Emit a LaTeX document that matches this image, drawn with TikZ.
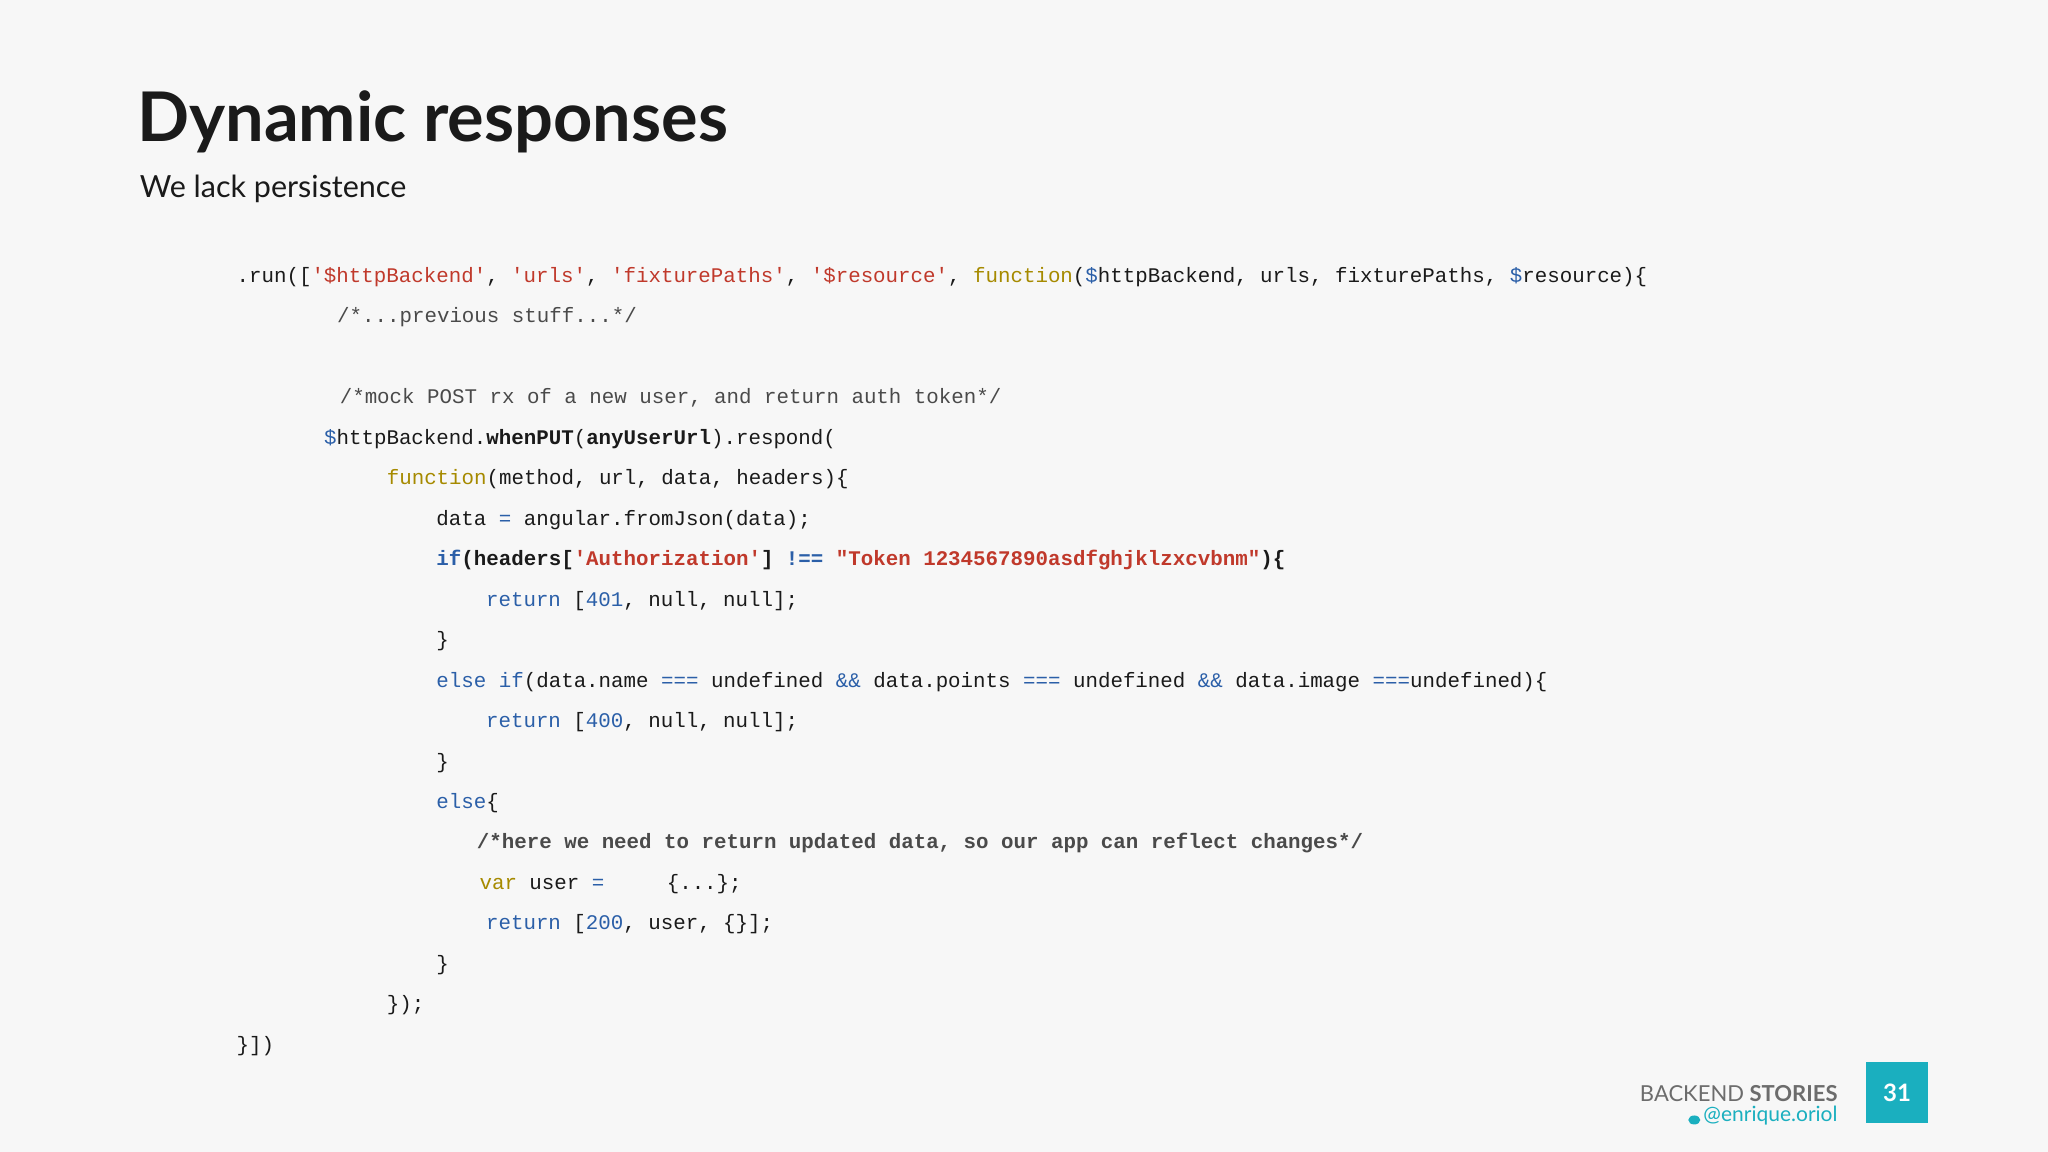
\documentclass[tikz,border=0pt]{standalone}
\usepackage{fontspec}
\setmainfont{Lato}
\newfontfamily\codef{Liberation Mono}
\definecolor{bg}{HTML}{F7F7F7}
\definecolor{kw}{HTML}{A68A00}
\definecolor{bl}{HTML}{2B5FA8}
\definecolor{st}{HTML}{C0392B}
\definecolor{cm}{HTML}{4A4A4A}
\definecolor{tx}{HTML}{1A1A1A}
\definecolor{teal}{HTML}{1AAFBF}
\newcommand\q{\char"27\relax}
\newcommand\K[1]{\textcolor{kw}{#1}}
\newcommand\B[1]{\textcolor{bl}{#1}}
\newcommand\Sx[1]{\textcolor{st}{#1}}
\newcommand\Cm[1]{\textcolor{cm}{#1}}
\tikzset{cl/.style={anchor=base west,inner sep=0pt,font=\codef\fontsize{20.8}{24}\selectfont,text=tx}}
\begin{document}
\begin{tikzpicture}[x=1.306pt,y=-1.306pt]
\fill[bg] (0,0) rectangle (1568,882);
\useasboundingbox (0,0) rectangle (1568,882);
\node[anchor=base west,inner sep=0pt,font=\bfseries\fontsize{68.5}{80}\selectfont,text=tx] (title) at (105,108) {Dynamic responses};
\node[anchor=base west,inner sep=0pt,font=\fontsize{30.5}{36}\selectfont,text=tx] (sub) at (107,151) {We lack persistence};
\node[cl] (l1) at (181,216) {.run([\Sx{\q\$httpBackend\q}, \Sx{\q urls\q}, \Sx{\q fixturePaths\q}, \Sx{\q\$resource\q}, \K{function}(\B{\$}httpBackend, urls, fixturePaths, \B{\$}resource)\{};
\node[cl] (l2) at (258,247) {\Cm{/*...previous stuff...*/}};
\node[cl] (l3) at (260,309) {\Cm{/*mock POST rx of a new user, and return auth token*/}};
\node[cl] (l4) at (248,340) {\B{\$}httpBackend.\textbf{whenPUT}(\textbf{anyUserUrl}).respond(};
\node[cl] (l5) at (296,371) {\K{function}(method, url, data, headers)\{};
\node[cl] (l6) at (334,402) {data \B{=} angular.fromJson(data);};
\node[cl] (l7) at (334,433) {\textbf{\B{if}(headers[\Sx{\q Authorization\q}] \B{!==} \Sx{"Token 1234567890asdfghjklzxcvbnm"})\{}};
\node[cl] (l8) at (372,464) {\B{return} [\B{401}, null, null];};
\node[cl] (l9) at (334,495) {\}};
\node[cl] (l10) at (334,526) {\B{else if}(data.name \B{===} undefined \B{\&\&} data.points \B{===} undefined \B{\&\&} data.image \B{===}undefined)\{};
\node[cl] (l11) at (372,557) {\B{return} [\B{400}, null, null];};
\node[cl] (l12) at (334,588) {\}};
\node[cl] (l13) at (334,619) {\B{else}\{};
\node[cl] (l14) at (365,650) {\textbf{\Cm{/*here we need to return updated data, so our app can reflect changes*/}}};
\node[cl] (l15) at (367,681) {\K{var} user \B{=}\ \ \ \ \ \{...\};};
\node[cl] (l16) at (372,712) {\B{return} [\B{200}, user, \{\}];};
\node[cl] (l17) at (334,743) {\}};
\node[cl] (l18) at (296,774) {\});};
\node[cl] (l19) at (181,805) {\}])};
% footer
\node[anchor=base east,inner sep=0pt,font=\fontsize{22}{26}\selectfont,text=gray!85!black] (brand) at (1407,843) {BACKEND \textbf{STORIES}};
\node[anchor=base east,inner sep=0pt,font=\fontsize{21}{26}\selectfont,text=teal] (tw) at (1407,859) {@enrique.oriol};
\fill[teal] ([xshift=-9pt,yshift=2pt]tw.base west) ellipse (6pt and 4.5pt);
\fill[teal] (1429,813) rectangle (1476,860);
\node[font=\bfseries\fontsize{24}{28}\selectfont,text=white] (pg) at (1452.5,836.5) {31};
\end{tikzpicture}
\end{document}
